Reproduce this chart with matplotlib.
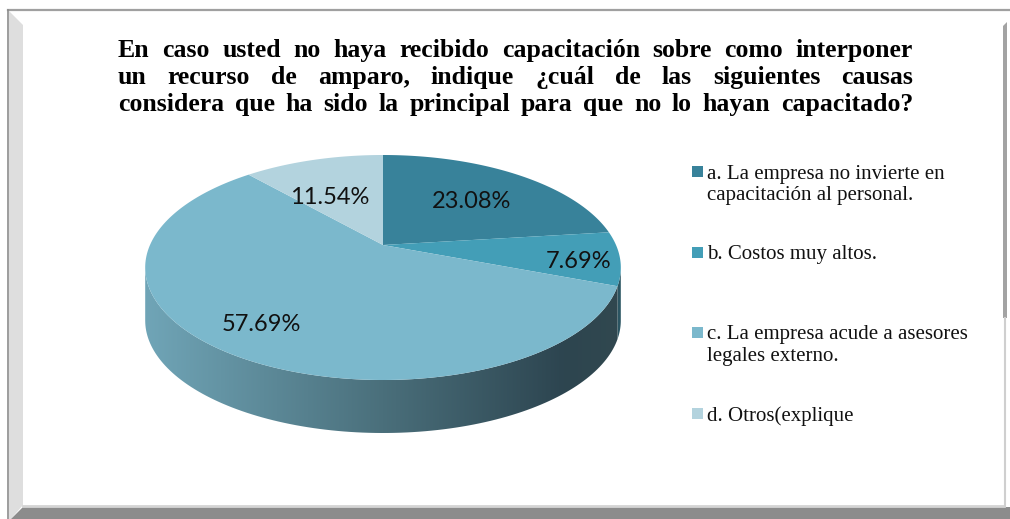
import numpy as np
import matplotlib.pyplot as plt
from matplotlib.patches import Polygon, Rectangle
from matplotlib.colors import LinearSegmentedColormap

titulo = [
    "En caso usted no haya recibido capacitación sobre como interponer",
    "un recurso de amparo, indique ¿cuál de las siguientes causas",
    "considera que ha sido la principal para que no lo hayan capacitado?",
]
categorias = [
    "a. La empresa no invierte en\ncapacitación al personal.",
    "b. Costos muy altos.",
    "c. La empresa acude a asesores\nlegales externo.",
    "d. Otros(explique",
]
porcentajes = [23.08, 7.69, 57.69, 11.54]
colores = ["#38829a", "#439eb7", "#7bb8cc", "#b3d3de"]

fig = plt.figure(figsize=(10.10, 5.19), dpi=100)
ax = fig.add_axes([0, 0, 1, 1])
ax.set_xlim(0, 1010)
ax.set_ylim(519, 0)
ax.axis("off")

# marco con sombra
ax.add_patch(Polygon([(9, 11), (23, 25), (23, 505), (11, 519), (9, 519)],
                     closed=True, fc="#dedede", ec="none"))
ax.add_patch(Polygon([(11, 519), (23, 507), (1010, 507), (1010, 519)],
                     closed=True, fc="#8c8c8c", ec="none"))
ax.plot([23, 1004], [505.5, 505.5], color="#d4d4d4", lw=2)
ax.plot([8, 1010], [10, 10], color="#a0a0a0", lw=1.6)
ax.plot([8, 8], [10, 519], color="#8c8c8c", lw=1.2)
ax.add_patch(Polygon([(1003, 26), (1007, 22), (1007, 318), (1003, 318)],
                     closed=True, fc="#a3a3a3", ec="none"))
ax.plot([1005, 1005], [318, 506], color="#cfcfcf", lw=1.5)

# pastel 3D con perspectiva
cx, cy, ancho, p_, r_ = 383, 245, 233, -59, 0.2
alto = 53


def proyectar(ang, rho=1.0):
    t = np.radians(ang)
    x = rho * np.cos(t)
    y = rho * np.sin(t)
    d = 1 + r_ * y
    return cx + ancho * x / d, (cy + p_ * y) / d


limites = [90.0]
for v in porcentajes:
    limites.append(limites[-1] - v / 100 * 360)

vis_hi = -np.degrees(np.arcsin(r_))
vis_lo = -180 - vis_hi

grad = LinearSegmentedColormap.from_list(
    "lado", [(0, "#70a5b7"), (0.5, "#4a6f7b"), (0.88, "#2d4550"), (1, "#31484f")])

for i in range(len(porcentajes)):
    a0, a1 = limites[i], limites[i + 1]
    hi = min(a0, vis_hi)
    lo = max(a1, vis_lo)
    if hi <= lo:
        continue
    ang = np.linspace(hi, lo, 120)
    u, v = proyectar(ang)
    pts = list(zip(u, v)) + list(zip(u[::-1], v[::-1] + alto))
    if i == 2:
        poly = Polygon(pts, closed=True, fc="none", ec="none")
        ax.add_patch(poly)
        im = ax.imshow(np.linspace(0, 1, 256)[None, :], cmap=grad, aspect="auto",
                       extent=(cx - 238, cx + 238, 440, 250), zorder=1)
        im.set_clip_path(poly)
    else:
        ax.add_patch(Polygon(pts, closed=True, fc="#2b5562", ec="none", zorder=1))

ax.set_xlim(0, 1010)
ax.set_ylim(519, 0)

for i in range(len(porcentajes)):
    ang = np.linspace(limites[i], limites[i + 1], 200)
    u, v = proyectar(ang)
    pts = [(cx, cy)] + list(zip(u, v))
    ax.add_patch(Polygon(pts, closed=True, fc=colores[i], ec="none", zorder=2))

rho_etq = [0.63, 0.83, 0.8, 0.6]
ajuste = [(0, 3), (0, 5), (0, -2), (-9, 7)]
for i, v in enumerate(porcentajes):
    mid = (limites[i] + limites[i + 1]) / 2
    x, y = proyectar(mid, rho_etq[i])
    ax.text(x + ajuste[i][0], y + ajuste[i][1], f"{v:.2f}%", ha="center",
            va="center", fontsize=17, family="Lato", color="#111111", zorder=3)

# leyenda
for i, txt in enumerate(categorias):
    y = 171.5 + i * 80.5
    ax.add_patch(Rectangle((692, y - 5.5), 11, 11, fc=colores[i], ec="none"))
    ax.text(707, y - 7, txt, ha="left", va="top", fontsize=15,
            family="Liberation Serif", linespacing=1.2, color="#111111")

# titulo justificado
fig.canvas.draw()
ren = fig.canvas.get_renderer()
x0, x1 = 118, 913
for k, linea in enumerate(titulo):
    yb = 57 + k * 26.8
    palabras = linea.split()
    objs = [ax.text(0, yb, w, ha="left", va="baseline", fontsize=18.5,
                    family="Liberation Serif", weight="bold", color="#000000")
            for w in palabras]
    anchos = [o.get_window_extent(ren).width for o in objs]
    hueco = (x1 - x0 - sum(anchos)) / (len(palabras) - 1)
    x = x0
    for o, w in zip(objs, anchos):
        o.set_x(x)
        x += w + hueco

fig.savefig("out.png", dpi=100)
